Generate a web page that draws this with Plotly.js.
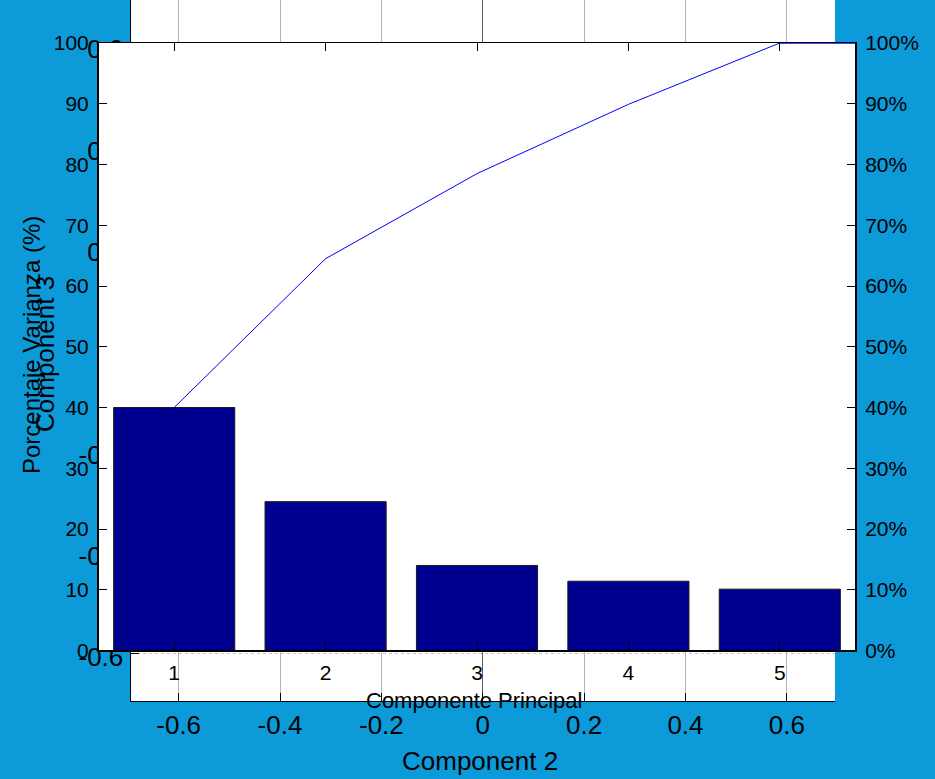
<!DOCTYPE html>
<html>
<head>
<meta charset="utf-8">
<script src="https://cdn.plot.ly/plotly-3.0.1.min.js"></script>
<style>html,body{margin:0;padding:0;background:#0c9ad9;}</style>
</head>
<body>
<div id="chart" style="width:935px;height:779px;"></div>
<script>
// Pareto (front) data
const categories = [1, 2, 3, 4, 5];
const categoryLabels = ['1', '2', '3', '4', '5'];
const varianzaPct = [40.0, 24.5, 14.0, 11.4, 10.1];
const acumuladoPct = [40.0, 64.5, 78.5, 89.9, 100.0];
const leftTickVals = [0, 10, 20, 30, 40, 50, 60, 70, 80, 90, 100];
const leftTickText = ['0', '10', '20', '30', '40', '50', '60', '70', '80', '90', '100'];
const rightTickText = ['0%', '10%', '20%', '30%', '40%', '50%', '60%', '70%', '80%', '90%', '100%'];
// Biplot (back) axes
const backTickVals = [-0.6, -0.4, -0.2, 0, 0.2, 0.4, 0.6];
const backTickText = ['-0.6', '-0.4', '-0.2', '0', '0.2', '0.4', '0.6'];

const FONT = 'Liberation Sans, Arial, Helvetica, sans-serif';
const frontXRange = [0.5, 5.5];
const frontYRange = [0, 100];

const traces = [
  { type: 'scatter', x: [], y: [], xaxis: 'x', yaxis: 'y', showlegend: false, hoverinfo: 'skip' },
  {
    type: 'bar', x: categories, y: varianzaPct, xaxis: 'x2', yaxis: 'y2', width: 0.8,
    marker: { color: '#00008f', line: { color: '#1a1a1a', width: 1 } }, showlegend: false
  },
  {
    type: 'scatter', mode: 'lines', x: categories, y: acumuladoPct, xaxis: 'x2', yaxis: 'y3',
    line: { color: '#0000ff', width: 1 }, showlegend: false
  }
];

const lastIdx = categories.length - 1;

const layout = {
  width: 935, height: 779,
  margin: { l: 0, r: 0, t: 0, b: 0 },
  paper_bgcolor: '#0c9ad9',
  plot_bgcolor: '#ffffff',
  showlegend: false,
  font: { family: FONT, color: '#000000' },
  xaxis: {
    domain: [0.1396, 0.8930], range: [-0.695, 0.695], anchor: 'y',
    tickmode: 'array', tickvals: backTickVals, ticktext: backTickText,
    ticks: 'inside', ticklen: 8, tickcolor: '#000', tickwidth: 1,
    showline: true, linecolor: '#000', linewidth: 1,
    showgrid: true, gridcolor: '#b4b4b4', gridwidth: 1,
    zeroline: true, zerolinecolor: '#5a5a5a', zerolinewidth: 1,
    tickfont: { size: 26, family: FONT, color: '#000' }, ticklabelstandoff: 1
  },
  yaxis: {
    domain: [0.1001, 1], range: [-0.694, 0.689], anchor: 'x',
    tickmode: 'array', tickvals: backTickVals, ticktext: backTickText,
    ticks: 'inside', ticklen: 8, tickcolor: '#000', tickwidth: 1,
    showline: true, linecolor: '#000', linewidth: 1,
    showgrid: true, gridcolor: '#c4c4c4', gridwidth: 1, griddash: 'dot',
    zeroline: false,
    tickfont: { size: 26, family: FONT, color: '#000' }, ticklabelstandoff: 1, ticklabelshift: 4
  },
  xaxis2: {
    domain: [0.10535, 0.91497], range: frontXRange, anchor: 'y2',
    tickmode: 'array', tickvals: categories, ticktext: categoryLabels,
    ticks: 'inside', ticklen: 8, tickcolor: '#000', tickwidth: 1,
    showline: true, mirror: 'ticks', linecolor: '#000', linewidth: 1.5,
    showgrid: false, zeroline: false,
    tickfont: { size: 21, family: FONT, color: '#000' }, ticklabelstandoff: 3
  },
  yaxis2: {
    domain: [0.16496, 0.94480], range: frontYRange, anchor: 'x2',
    tickmode: 'array', tickvals: leftTickVals, ticktext: leftTickText,
    ticks: 'inside', ticklen: 8, tickcolor: '#000', tickwidth: 1,
    showline: true, linecolor: '#000', linewidth: 1.5,
    showgrid: false, zeroline: false,
    tickfont: { size: 21, family: FONT, color: '#000' }, ticklabelstandoff: 4
  },
  yaxis3: {
    overlaying: 'y2', side: 'right', anchor: 'x2', range: frontYRange,
    tickmode: 'array', tickvals: leftTickVals, ticktext: rightTickText,
    ticks: 'inside', ticklen: 8, tickcolor: '#000', tickwidth: 1,
    showline: true, linecolor: '#000', linewidth: 1.5,
    showgrid: false, zeroline: false,
    tickfont: { size: 21, family: FONT, color: '#000' }, ticklabelstandoff: 4
  },
  shapes: [
    { type: 'rect', xref: 'x2', yref: 'y2', layer: 'below',
      x0: frontXRange[0], x1: frontXRange[1], y0: frontYRange[0], y1: frontYRange[1],
      fillcolor: '#ffffff', line: { width: 0 } },
    { type: 'line', xref: 'x2', yref: 'y3', layer: 'above',
      x0: categories[lastIdx], x1: frontXRange[1], y0: acumuladoPct[lastIdx], y1: acumuladoPct[lastIdx],
      line: { color: '#0000ff', width: 1.5 } }
  ],
  annotations: [
    { text: 'Porcentaje Varianza (%)', xref: 'paper', yref: 'paper', x: 0.0332, y: 0.5571,
      xanchor: 'center', yanchor: 'middle', textangle: -90, showarrow: false,
      font: { size: 24, family: FONT, color: '#000' } },
    { text: 'Component 3', xref: 'paper', yref: 'paper', x: 0.0481, y: 0.5456,
      xanchor: 'center', yanchor: 'middle', textangle: -90, showarrow: false,
      font: { size: 26, family: FONT, color: '#000' } },
    { text: 'Componente Principal', xref: 'paper', yref: 'paper', x: 0.507, y: 0.1014,
      xanchor: 'center', yanchor: 'middle', showarrow: false,
      font: { size: 22, family: FONT, color: '#000' } },
    { text: 'Component 2', xref: 'paper', yref: 'paper', x: 0.5134, y: 0.0231,
      xanchor: 'center', yanchor: 'middle', showarrow: false,
      font: { size: 26, family: FONT, color: '#000' } }
  ]
};

Plotly.newPlot('chart', traces, layout, { displayModeBar: false, staticPlot: true });
</script>
</body>
</html>
